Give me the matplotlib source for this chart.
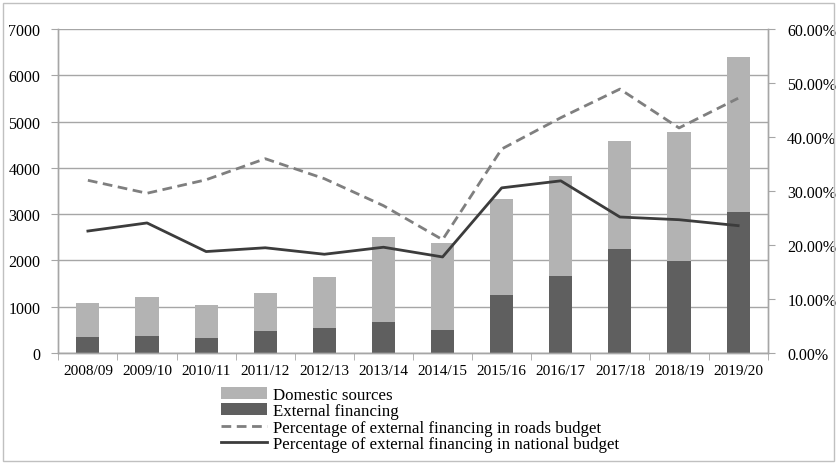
import numpy as np
import matplotlib
matplotlib.use("Agg")
import matplotlib.pyplot as plt
from matplotlib.patches import Rectangle
from matplotlib.ticker import FuncFormatter

plt.rcParams['font.family'] = ['Liberation Serif', 'DejaVu Serif']

years = ['2008/09', '2009/10', '2010/11', '2011/12', '2012/13', '2013/14',
         '2014/15', '2015/16', '2016/17', '2017/18', '2018/19', '2019/20']
total = [1080, 1210, 1037, 1290, 1648, 2506, 2383, 3327, 3817, 4580, 4781, 6401]
external = [340, 360, 331, 468, 533, 677, 504, 1253, 1670, 2247, 1994, 3039]
domestic = [t - e for t, e in zip(total, external)]
pct_roads = [32.0, 29.6, 32.1, 36.0, 32.3, 27.3, 21.0, 37.8, 43.6, 48.9, 41.7, 47.2]
pct_national = [22.6, 24.1, 18.8, 19.5, 18.3, 19.6, 17.8, 30.6, 31.9, 25.2, 24.7, 23.6]

fig = plt.figure(figsize=(8.37, 4.64), dpi=100)
ax = fig.add_axes([0.0697, 0.237, 0.8475, 0.698])
ax2 = ax.twinx()

x = np.arange(len(years))
axis_grey = '#a6a6a6'

ax.bar(x, external, width=0.39, color='#5f5f5f', label='External financing', zorder=2)
ax.bar(x, domestic, width=0.39, bottom=external, color='#b3b3b3', label='Domestic sources', zorder=2)

ax2.plot(x, pct_roads, color='#7f7f7f', lw=2.0, ls=(0, (3.5, 2)), label='Percentage of external financing in roads budget')
ax2.plot(x, pct_national, color='#3c3c3c', lw=2.0, label='Percentage of external financing in national budget')

ax.set_xlim(-0.5, len(years) - 0.5)
ax.set_ylim(0, 7000)
ax.set_yticks(range(0, 7001, 1000))
ax2.set_ylim(0, 60)
ax2.set_yticks(range(0, 61, 10))
ax2.yaxis.set_major_formatter(FuncFormatter(lambda v, p: '%.2f%%' % v))

ax.set_xticks(x)
ax.set_xticklabels(years)
ax.set_xticks(np.arange(-0.5, len(years)), minor=True)
ax.tick_params(axis='x', which='major', length=0, pad=8, labelsize=11)
ax.tick_params(axis='x', which='minor', length=5, color=axis_grey, direction='out')
ax.tick_params(axis='y', length=5, color=axis_grey, labelsize=11.5, pad=8)
ax2.tick_params(axis='y', length=5, color=axis_grey, labelsize=11.5, pad=9)

ax.yaxis.grid(True, color=axis_grey, lw=1.0, zorder=0)
ax.set_axisbelow(True)
for a in (ax, ax2):
    a.spines['top'].set_visible(False)
    for s in ('left', 'right', 'bottom'):
        a.spines[s].set_color(axis_grey)
        a.spines[s].set_linewidth(1.0)

h1, l1 = ax.get_legend_handles_labels()
h2, l2 = ax2.get_legend_handles_labels()
handles = [h1[1], h1[0]] + h2
labels = [l1[1], l1[0]] + l2
fig.legend(handles, labels, loc='upper left', bbox_to_anchor=(0.264, 0.164),
           frameon=False, fontsize=12.2, handlelength=2.7, handletextpad=0.35,
           labelspacing=0.02, borderpad=0, borderaxespad=0)

fig.patches.append(Rectangle((0.004, 0.004), 0.992, 0.988, transform=fig.transFigure,
                             fill=False, edgecolor='#c0c0c0', lw=1.0))

fig.savefig('out.png', dpi=100)
